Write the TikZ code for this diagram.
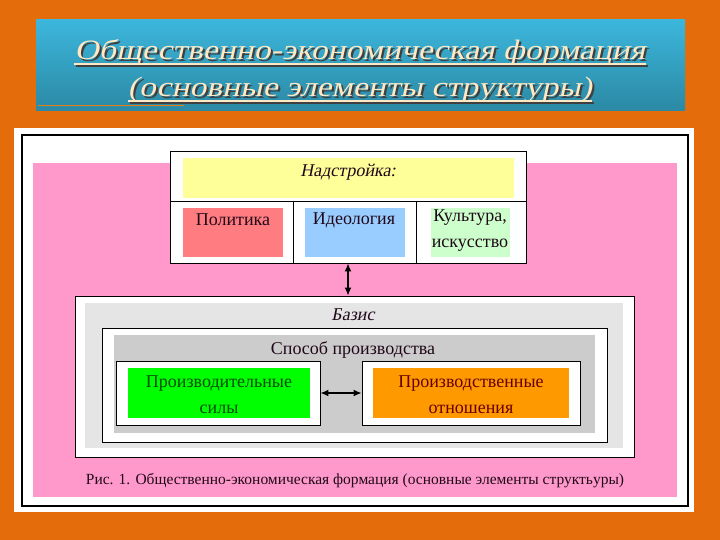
\documentclass[tikz,border=0pt]{standalone}
\usepackage{fontspec}
\setmainfont{Liberation Serif}[ItalicFont={Liberation Serif},ItalicFeatures={FakeSlant=0.2}]
\newfontfamily\ttlfont{Liberation Serif}[FakeStretch=1.2,ItalicFont={Liberation Serif},ItalicFeatures={FakeSlant=0.22}]
\usetikzlibrary{arrows.meta}
\definecolor{bgorange}{HTML}{E46C0A}
\definecolor{ttltop}{HTML}{3CB6DC}
\definecolor{ttlbot}{HTML}{2B89A4}
\definecolor{ttltext}{HTML}{FFE9C4}
\definecolor{rose}{HTML}{FF99CC}
\definecolor{cyellow}{HTML}{FFFF99}
\definecolor{cred}{HTML}{FF7C80}
\definecolor{cblue}{HTML}{99CCFF}
\definecolor{cmint}{HTML}{CCFFCC}
\definecolor{cgreen}{HTML}{00FF00}
\definecolor{corange}{HTML}{FF9900}
\definecolor{ink}{HTML}{200818}
% text with a drop shadow
\newcommand\shtext[1]{\rlap{\kern2pt\raisebox{-2pt}{\textcolor{black!75}{#1}}}#1}

\begin{document}
\begin{tikzpicture}[>={Latex[length=8pt,width=7pt]},x=1pt,y=-1pt,
  txt/.style={inner sep=0,align=center,text=ink,font=\fontsize{18}{26}\selectfont},
  ttl/.style={inner sep=0,anchor=base,text=ttltext,font=\ttlfont\fontsize{28}{28}\selectfont\itshape},
  frame/.style={draw,line width=.9pt,fill=white,inner sep=0}]
\useasboundingbox (0,0) rectangle (720,540);
\fill[bgorange] (0,0) rectangle (720,540);
% title
\shade[top color=ttltop,bottom color=ttlbot] (36,20) rectangle (685,111);
\draw[orange!60!brown,line width=1pt] (38,106) -- (184,106);
\foreach \n/\y/\t in {ttla/60/Общественно-экономическая формация,ttlb/97/(основные элементы структуры)}{
  \node[ttl] (\n) at (360,\y) {\shtext{\t}};
  \draw[black!75,line width=1.2pt] ([shift={(2pt,-6pt)}]\n.base west) -- ([shift={(2pt,-6pt)}]\n.base east);
  \draw[ttltext,line width=1.2pt] ([yshift=-4pt]\n.base west) -- ([yshift=-4pt]\n.base east);
}
% panel
\fill[white] (14,128) rectangle (694,512);
\draw[line width=1.2pt] (22,135) rectangle (688,506);
\fill[rose] (33,163) rectangle (677,497);
% superstructure
\node[frame,minimum width=356pt,minimum height=112pt] (nadstr) at (348,207) {};
\draw[line width=1.8pt] (nadstr.south west) -- (nadstr.south east);
\draw[line width=.9pt] (170,201) -- (526,201) (293,201) -- (293,263) (416,201) -- (416,263);
\fill[cyellow] (183,158) rectangle (514,198);
\fill[cred] (183,208) rectangle (283,257);
\fill[cblue] (305,208) rectangle (405,257);
\fill[cmint] (431,208) rectangle (510,257);
\node[txt,font=\fontsize{18}{26}\selectfont\itshape] (nadstrlbl) at (348,172) {Надстройка:};
\node[txt] (polit) at (233,220) {Политика};
\node[txt] (ideol) at (354,220) {Идеология};
\node[txt] (kult) at (470,231) {Культура,\\искусство};
% basis
\node[frame,minimum width=559pt,minimum height=161pt] (basis) at (354.5,376.5) {};
\fill[gray!20] (85,303) rectangle (623,448);
\node[frame,minimum width=505pt,minimum height=114pt] (sposob) at (354.5,385) {};
\fill[gray!40] (114,335) rectangle (595,433);
\node[txt,font=\fontsize{18}{26}\selectfont\itshape] (basislbl) at (353,315) {Базис};
\node[txt] (sposoblbl) at (353,350) {Способ производства};
\node[frame,minimum width=204pt,minimum height=64pt] (pf) at (218,393) {};
\fill[cgreen] (128,368) rectangle (310,418);
\node[frame,minimum width=218pt,minimum height=64pt] (po) at (471,393) {};
\fill[corange] (373,368) rectangle (569,418);
\node[txt,text=green!30!black] (pflbl) at (219,395) {Производительные\\силы};
\node[txt,text=red!40!black] (polbl) at (471,395) {Производственные\\отношения};
\draw[<->,line width=1.3pt] (nadstr.south) -- (nadstr.south |- basis.north);
\draw[<->,line width=1.3pt] (pf.east) -- (po.west);
\node[txt,font=\fontsize{15.5}{18}\selectfont] (caption) at (355,481) {Рис. 1. Общественно-экономическая формация (основные элементы структьуры)};
\end{tikzpicture}
\end{document}
